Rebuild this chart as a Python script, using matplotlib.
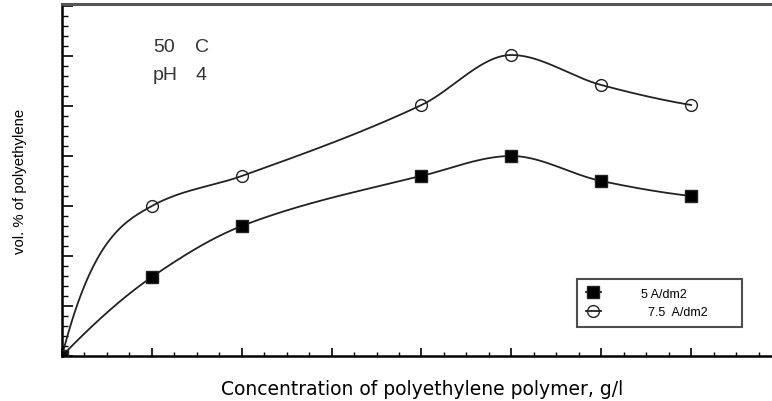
import numpy as np
import matplotlib
matplotlib.use('Agg')
import matplotlib.pyplot as plt
from matplotlib.ticker import MultipleLocator, NullFormatter

plt.rcParams['font.family'] = ['Liberation Sans', 'DejaVu Sans']

# concentration positions (axis has no numeric labels)
conc = [0, 1, 2, 4, 5, 6, 7]
vol_5 = [0, 1.58, 2.6, 3.6, 4.0, 3.5, 3.2]
vol_75 = [0, 3.0, 3.6, 5.02, 6.02, 5.42, 5.02]


def smooth_curve(x, y, start_slope=None, n=400):
    # shape-preserving cubic (PCHIP style) through the read points
    x = np.asarray(x, float)
    y = np.asarray(y, float)
    h = np.diff(x)
    d = np.diff(y) / h
    m = np.zeros(len(x))
    for k in range(1, len(x) - 1):
        if d[k - 1] * d[k] > 0:
            w1 = 2 * h[k] + h[k - 1]
            w2 = h[k] + 2 * h[k - 1]
            m[k] = (w1 + w2) / (w1 / d[k - 1] + w2 / d[k])
    m[0] = ((2 * h[0] + h[1]) * d[0] - h[0] * d[1]) / (h[0] + h[1])
    m[-1] = ((2 * h[-1] + h[-2]) * d[-1] - h[-1] * d[-2]) / (h[-1] + h[-2])
    if start_slope is not None:
        m[0] = start_slope
    xs = np.linspace(x[0], x[-1], n)
    i = np.clip(np.searchsorted(x, xs) - 1, 0, len(x) - 2)
    hh = h[i]
    t = (xs - x[i]) / hh
    ys = ((2 * t**3 - 3 * t**2 + 1) * y[i] + (t**3 - 2 * t**2 + t) * hh * m[i]
          + (-2 * t**3 + 3 * t**2) * y[i + 1] + (t**3 - t**2) * hh * m[i + 1])
    return xs, ys


fig = plt.figure(figsize=(7.72, 4.02), dpi=100)
ax = fig.add_axes([62 / 772, 45 / 402, 1 - 62 / 772, 352 / 402])

series = [(vol_5, 's', 'black', '5 A/dm2', None),
          (vol_75, 'o', 'none', '  7.5  A/dm2', 7.0)]
for vals, mk, fc, lab, s0 in series:
    xs, ys = smooth_curve(conc, vals, s0)
    ax.plot(xs, ys, color='#222222', lw=1.3, zorder=2)
    ax.plot(conc, vals, ls='none', marker=mk, ms=8.5, mfc=fc, mec='#222222',
            mew=1.0, zorder=3)
    ax.plot([], [], color='#222222', lw=1.3, marker=mk, ms=8.5, mfc=fc,
            mec='#222222', label=lab)

ax.set_xlim(0, 7.9)
ax.set_ylim(0, 7.04)
ax.xaxis.set_major_locator(MultipleLocator(1))
ax.xaxis.set_minor_locator(MultipleLocator(0.25))
ax.yaxis.set_major_locator(MultipleLocator(1))
ax.yaxis.set_minor_locator(MultipleLocator(0.2))
ax.xaxis.set_major_formatter(NullFormatter())
ax.yaxis.set_major_formatter(NullFormatter())
ax.tick_params(axis='x', which='major', direction='in', length=6, width=1.2)
ax.tick_params(axis='x', which='minor', direction='in', length=3, width=1.0)
ax.tick_params(axis='y', which='major', direction='in', length=8, width=1.2)
ax.tick_params(axis='y', which='minor', direction='in', length=4.5, width=1.0)

ax.spines['right'].set_visible(False)
ax.spines['left'].set_linewidth(1.8)
ax.spines['bottom'].set_linewidth(1.8)
ax.spines['top'].set_linewidth(2.2)
ax.spines['top'].set_color('#555555')

ax.set_xlabel('Concentration of polyethylene polymer, g/l', fontsize=13.5,
              family='DejaVu Sans', labelpad=11)
ax.xaxis.set_label_coords(0.507, -0.065)
ax.set_ylabel('vol. % of polyethylene', fontsize=10.7, labelpad=22)

ax.text(1.01, 6.1, '50', fontsize=14, color='#333333')
ax.text(1.48, 6.1, 'C', fontsize=14, color='#333333')
ax.text(1.01, 5.53, 'pH', fontsize=14, color='#333333')
ax.text(1.48, 5.53, '4', fontsize=14, color='#333333')

leg = ax.legend(loc='upper left', bbox_to_anchor=(0.7254, 0.2188, 0.2324, 0.0),
                mode='expand', borderaxespad=0, fontsize=9, frameon=True,
                fancybox=False, handlelength=1.2, handletextpad=3.2,
                borderpad=0.7, labelspacing=0.5)
leg.get_frame().set_edgecolor('#222222')
leg.get_frame().set_linewidth(1.5)

fig.savefig('out.png', dpi=100)
